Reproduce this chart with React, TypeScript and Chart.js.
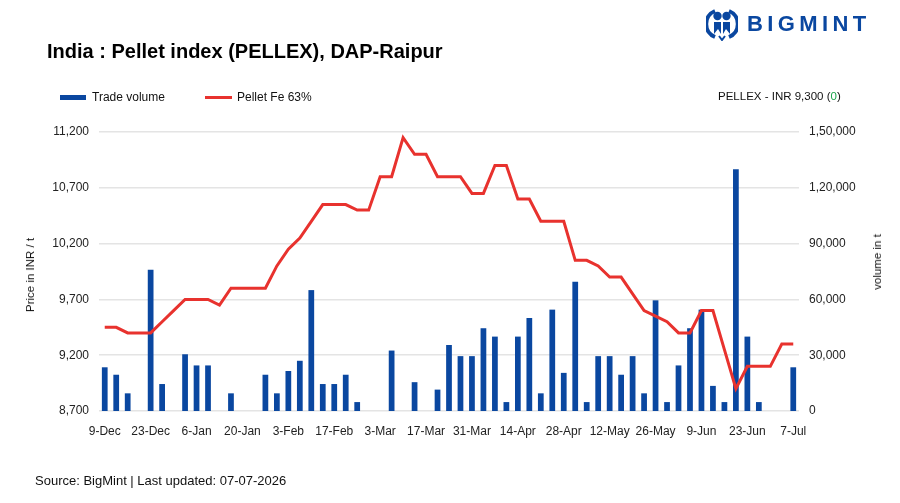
import React, { useEffect, useRef } from "react";
import { Chart, registerables } from "chart.js";

Chart.register(...registerables);

// Twice-weekly assessment dates
const dates: string[] = [
  "9-Dec", "12-Dec", "16-Dec", "19-Dec", "23-Dec", "26-Dec", "30-Dec",
  "2-Jan", "6-Jan", "9-Jan", "13-Jan", "16-Jan", "20-Jan", "23-Jan", "27-Jan", "30-Jan",
  "3-Feb", "6-Feb", "10-Feb", "13-Feb", "17-Feb", "20-Feb", "24-Feb", "27-Feb",
  "3-Mar", "6-Mar", "10-Mar", "13-Mar", "17-Mar", "20-Mar", "24-Mar", "27-Mar", "31-Mar",
  "3-Apr", "7-Apr", "10-Apr", "14-Apr", "17-Apr", "21-Apr", "24-Apr", "28-Apr",
  "1-May", "5-May", "8-May", "12-May", "15-May", "19-May", "22-May", "26-May", "29-May",
  "2-Jun", "5-Jun", "9-Jun", "12-Jun", "16-Jun", "19-Jun", "23-Jun", "26-Jun", "30-Jun",
  "3-Jul", "7-Jul",
];

// Pellet Fe 63% DAP-Raipur, INR/t
const pelletPrice: number[] = [
  9450, 9450, 9400, 9400, 9400, 9500, 9600, 9700, 9700, 9700,
  9650, 9800, 9800, 9800, 9800, 10000, 10150, 10250, 10400, 10550,
  10550, 10550, 10500, 10500, 10800, 10800, 11150, 11000, 11000, 10800,
  10800, 10800, 10650, 10650, 10900, 10900, 10600, 10600, 10400, 10400,
  10400, 10050, 10050, 10000, 9900, 9900, 9750, 9600, 9550, 9500,
  9400, 9400, 9600, 9600, 9250, 8900, 9100, 9100, 9100, 9300, 9300,
];

// Trade volume, t (null = no trades reported)
const tradeVolume: (number | null)[] = [
  23500, 19500, 9500, null, 76000, 14500, null, 30500, 24500, 24500,
  null, 9500, null, null, 19500, 9500, 21500, 27000, 65000, 14500,
  14500, 19500, 4800, null, null, 32500, null, 15500, null, 11500,
  35500, 29500, 29500, 44500, 40000, 4800, 40000, 50000, 9500, 54500,
  20500, 69500, 4800, 29500, 29500, 19500, 29500, 9500, 59500, 4800,
  24500, 44500, 54500, 13500, 4800, 130000, 40000, 4800, null, null,
  23500,
];

const priceTicks = { min: 8700, max: 11200, step: 500 };
const volumeTicks = { min: 0, max: 150000, step: 30000 };

const BLUE = "#0a47a0";
const RED = "#e8322e";
const FONT = "'Liberation Sans', Arial, Helvetica, sans-serif";

function formatIndian(n: number): string {
  const s = Math.round(n).toString();
  if (s.length <= 3) return s;
  const last3 = s.slice(-3);
  let rest = s.slice(0, -3);
  const parts: string[] = [];
  while (rest.length > 2) {
    parts.unshift(rest.slice(-2));
    rest = rest.slice(0, -2);
  }
  if (rest.length) parts.unshift(rest);
  return parts.join(",") + "," + last3;
}

function formatThousands(n: number): string {
  return Math.round(n).toString().replace(/\B(?=(\d{3})+(?!\d))/g, ",");
}

function Logo() {
  return (
    <div style={{ position: "absolute", left: 706, top: 6, display: "flex", alignItems: "center" }}>
      <svg width="32" height="34" viewBox="0 0 32 34">
        <path d="M9 4 A14 14 0 0 0 9 30" stroke={BLUE} strokeWidth="4" fill="none" />
        <path d="M23 4 A14 14 0 0 1 23 30" stroke={BLUE} strokeWidth="4" fill="none" />
        <circle cx="11.5" cy="9" r="4.2" fill={BLUE} />
        <circle cx="20.5" cy="9" r="4.2" fill={BLUE} />
        <path d="M8 15 L15 15 L15 27 L12 22 L8 27 Z" fill={BLUE} />
        <path d="M17 15 L24 15 L24 27 L20 22 L17 27 Z" fill={BLUE} />
        <path d="M13 29 L16 33 L19 29" stroke={BLUE} strokeWidth="2" fill="none" />
      </svg>
      <span
        style={{
          marginLeft: 9,
          fontFamily: FONT,
          fontWeight: 700,
          fontSize: 22,
          letterSpacing: 4.4,
          color: BLUE,
          lineHeight: "36px",
        }}
      >
        BIGMINT
      </span>
    </div>
  );
}

export default function App() {
  const canvasRef = useRef<HTMLCanvasElement | null>(null);

  useEffect(() => {
    const canvas = canvasRef.current;
    if (!canvas) return;
    const chart = new Chart(canvas, {
      type: "bar",
      data: {
        labels: dates,
        datasets: [
          {
            type: "line",
            label: "Pellet Fe 63%",
            data: pelletPrice,
            yAxisID: "y",
            borderColor: RED,
            backgroundColor: RED,
            borderWidth: 3,
            pointRadius: 0,
            tension: 0,
            order: 0,
          } as any,
          {
            type: "bar",
            label: "Trade volume",
            data: tradeVolume,
            yAxisID: "y1",
            backgroundColor: BLUE,
            borderWidth: 0,
            barPercentage: 0.5,
            categoryPercentage: 1,
            order: 1,
          } as any,
        ],
      },
      options: {
        responsive: false,
        animation: false,
        devicePixelRatio: 1,
        layout: { padding: { left: 49, right: 41, top: 132, bottom: 62 } },
        plugins: {
          legend: { display: false },
          tooltip: { enabled: false },
          title: { display: false },
        },
        scales: {
          x: {
            type: "category",
            offset: true,
            grid: { display: false },
            border: { display: false },
            ticks: {
              autoSkip: false,
              maxRotation: 0,
              minRotation: 0,
              padding: 5,
              color: "#222",
              font: { family: FONT, size: 12 },
              callback: (_v: any, i: number) => (i % 4 === 0 ? dates[i] : ""),
            },
            afterFit: (s: any) => {
              s.height = 30;
            },
          },
          y: {
            position: "left",
            min: priceTicks.min,
            max: priceTicks.max,
            grid: { color: "#e4e4e4", lineWidth: 1.5, drawTicks: false },
            border: { display: false },
            ticks: {
              stepSize: priceTicks.step,
              padding: 10,
              color: "#222",
              font: { family: FONT, size: 12 },
              callback: (v: any) => formatThousands(Number(v)),
            },
            afterFit: (s: any) => {
              s.width = 50;
            },
          },
          y1: {
            position: "right",
            min: volumeTicks.min,
            max: volumeTicks.max,
            grid: { display: false, drawTicks: false },
            border: { display: false },
            ticks: {
              stepSize: volumeTicks.step,
              padding: 10,
              color: "#222",
              font: { family: FONT, size: 12 },
              callback: (v: any) => formatIndian(Number(v)),
            },
            afterFit: (s: any) => {
              s.width = 60;
            },
          },
        },
      } as any,
    });
    return () => chart.destroy();
  }, []);

  const text: React.CSSProperties = { position: "absolute", fontFamily: FONT, color: "#111", whiteSpace: "nowrap" };

  return (
    <div
      style={{
        position: "fixed",
        left: 0,
        top: 0,
        width: 900,
        height: 503,
        background: "#fff",
        overflow: "hidden",
      }}
    >
      <canvas ref={canvasRef} width={900} height={503} style={{ position: "absolute", left: 0, top: 0 }} />
      <Logo />
      <div style={{ ...text, left: 47, top: 40, fontSize: 20, fontWeight: 700, color: "#000" }}>
        India : Pellet index (PELLEX), DAP-Raipur
      </div>
      {/* legend */}
      <div style={{ position: "absolute", left: 60, top: 95, width: 26, height: 5, background: BLUE }} />
      <div style={{ ...text, left: 92, top: 90, fontSize: 12 }}>Trade volume</div>
      <div style={{ position: "absolute", left: 205, top: 96, width: 27, height: 3, background: RED }} />
      <div style={{ ...text, left: 237, top: 90, fontSize: 12 }}>Pellet Fe 63%</div>
      <div style={{ ...text, left: 718, top: 90, fontSize: 11.5 }}>
        PELLEX - INR 9,300 (<span style={{ color: "#1aa34a" }}>0</span>)
      </div>
      {/* axis titles */}
      <div
        style={{
          ...text,
          left: 30,
          top: 275,
          fontSize: 11.5,
          transform: "translate(-50%, -50%) rotate(-90deg)",
        }}
      >
        Price in INR / t
      </div>
      <div
        style={{
          ...text,
          left: 877,
          top: 262,
          fontSize: 11.5,
          transform: "translate(-50%, -50%) rotate(-90deg)",
        }}
      >
        volume in t
      </div>
      <div style={{ ...text, left: 35, top: 473, fontSize: 13 }}>
        Source: BigMint | Last updated: 07-07-2026
      </div>
    </div>
  );
}
